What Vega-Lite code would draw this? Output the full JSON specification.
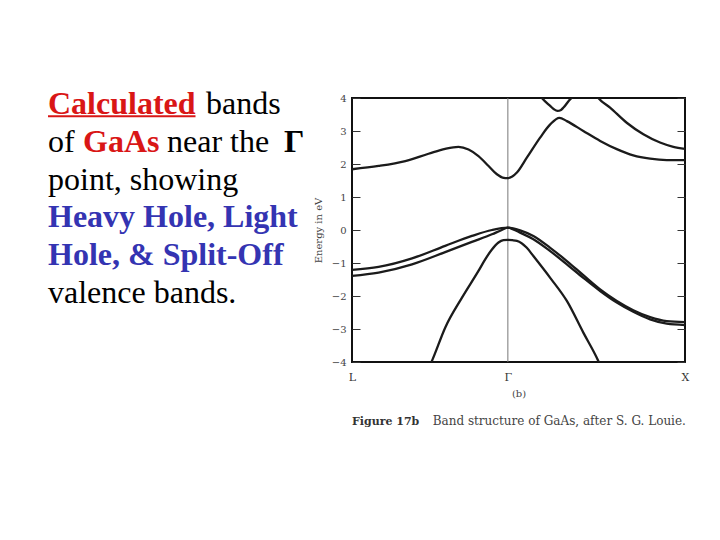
{
  "$schema": "https://vega.github.io/schema/vega-lite/v6.json",
  "background": "white",
  "padding": {"left": 0, "top": 88, "right": 10, "bottom": 10},
  "bounds": "flush",
  "spacing": 52,
  "config": {"view": {"stroke": "#111", "strokeWidth": 2}},
  "hconcat": [
    {
      "width": 300,
      "height": 264,
      "view": {"stroke": null},
      "data": {"values": [
        {"line": 1, "start": 48, "text": "Calculated", "role": "method"},
        {"line": 1, "start": 206, "text": "bands", "role": "plain"},
        {"line": 2, "start": 48, "text": "of", "role": "plain"},
        {"line": 2, "start": 83, "text": "GaAs", "role": "material"},
        {"line": 2, "start": 167, "text": "near the", "role": "plain"},
        {"line": 2, "start": 284, "text": "Γ", "role": "symbol"},
        {"line": 3, "start": 48, "text": "point, showing", "role": "plain"},
        {"line": 4, "start": 48, "text": "Heavy Hole, Light", "role": "band"},
        {"line": 5, "start": 48, "text": "Hole, & Split-Off", "role": "band"},
        {"line": 6, "start": 48, "text": "valence bands.", "role": "plain"}
      ]},
      "layer": [
        {
          "transform": [{"filter": "datum.role !== 'plain'"}],
          "mark": {"type": "text", "align": "left", "baseline": "alphabetic", "font": "Liberation Serif", "fontSize": 32, "fontWeight": "bold"},
          "encoding": {
            "x": {"field": "start", "type": "quantitative", "scale": {"domain": [0, 300]}, "axis": null},
            "y": {"field": "line", "type": "quantitative", "scale": {"domain": [1, 6], "range": [16.3, 204.8]}, "axis": null},
            "text": {"field": "text"},
            "color": {"field": "role", "type": "nominal", "scale": {"domain": ["plain", "symbol", "method", "material", "band"], "range": ["#000000", "#000000", "#d91616", "#d91616", "#3434b2"]}, "legend": null}
          }
        },
        {
          "transform": [{"filter": "datum.role === 'plain'"}],
          "mark": {"type": "text", "align": "left", "baseline": "alphabetic", "font": "Liberation Serif", "fontSize": 32},
          "encoding": {
            "x": {"field": "start", "type": "quantitative", "scale": {"domain": [0, 300]}, "axis": null},
            "y": {"field": "line", "type": "quantitative", "scale": {"domain": [1, 6], "range": [16.3, 204.8]}, "axis": null},
            "text": {"field": "text"},
            "color": {"field": "role", "type": "nominal", "scale": {"domain": ["plain", "symbol", "method", "material", "band"], "range": ["#000000", "#000000", "#d91616", "#d91616", "#3434b2"]}, "legend": null}
          }
        },
        {
          "data": {"values": [{}]},
          "mark": {"type": "rule", "color": "#d91616", "strokeWidth": 2},
          "encoding": {
            "x": {"datum": 48, "type": "quantitative", "axis": null},
            "x2": {"datum": 195.5},
            "y": {"datum": 1.055, "type": "quantitative", "axis": null}
          }
        }
      ]
    },
    {
      "width": 333,
      "height": 264,
      "resolve": {"scale": {"x": "independent", "y": "independent"}, "axis": {"x": "independent", "y": "independent"}},
      "layer": [
        {
          "data": {"values": [{}]},
          "mark": {"type": "rule", "color": "#777", "strokeWidth": 1},
          "encoding": {"x": {"datum": 0, "type": "quantitative", "scale": {"domain": [-0.88, 1], "nice": false, "zero": false}, "axis": null}}
        },
        {
          "data": {"values": [
            {"b": "c1", "k": -0.88, "E": 1.84}, {"b": "c1", "k": -0.73, "E": 1.94}, {"b": "c1", "k": -0.579, "E": 2.09},
            {"b": "c1", "k": -0.448, "E": 2.31}, {"b": "c1", "k": -0.354, "E": 2.46}, {"b": "c1", "k": -0.279, "E": 2.52},
            {"b": "c1", "k": -0.222, "E": 2.44}, {"b": "c1", "k": -0.166, "E": 2.24}, {"b": "c1", "k": -0.109, "E": 1.94},
            {"b": "c1", "k": -0.062, "E": 1.69}, {"b": "c1", "k": -0.03, "E": 1.59}, {"b": "c1", "k": 0, "E": 1.57},
            {"b": "c1", "k": 0.025, "E": 1.62}, {"b": "c1", "k": 0.051, "E": 1.74}, {"b": "c1", "k": 0.107, "E": 2.19},
            {"b": "c1", "k": 0.182, "E": 2.8}, {"b": "c1", "k": 0.239, "E": 3.2}, {"b": "c1", "k": 0.291, "E": 3.4},
            {"b": "c1", "k": 0.333, "E": 3.3}, {"b": "c1", "k": 0.426, "E": 3.0}, {"b": "c1", "k": 0.521, "E": 2.7},
            {"b": "c1", "k": 0.615, "E": 2.45}, {"b": "c1", "k": 0.708, "E": 2.26}, {"b": "c1", "k": 0.803, "E": 2.16},
            {"b": "c1", "k": 0.897, "E": 2.12}, {"b": "c1", "k": 1, "E": 2.12},
            {"b": "c2", "k": 0.18, "E": 4.08}, {"b": "c2", "k": 0.192, "E": 4.0}, {"b": "c2", "k": 0.239, "E": 3.76},
            {"b": "c2", "k": 0.26, "E": 3.66}, {"b": "c2", "k": 0.28, "E": 3.61}, {"b": "c2", "k": 0.3, "E": 3.64},
            {"b": "c2", "k": 0.314, "E": 3.71}, {"b": "c2", "k": 0.351, "E": 3.96}, {"b": "c2", "k": 0.37, "E": 4.05},
            {"b": "c3", "k": 0.5, "E": 4.08}, {"b": "c3", "k": 0.511, "E": 4.0}, {"b": "c3", "k": 0.577, "E": 3.71},
            {"b": "c3", "k": 0.671, "E": 3.25}, {"b": "c3", "k": 0.765, "E": 2.9}, {"b": "c3", "k": 0.859, "E": 2.65},
            {"b": "c3", "k": 0.934, "E": 2.52}, {"b": "c3", "k": 1, "E": 2.46},
            {"b": "v1", "k": -0.88, "E": -1.21}, {"b": "v1", "k": -0.73, "E": -1.12}, {"b": "v1", "k": -0.541, "E": -0.86},
            {"b": "v1", "k": -0.354, "E": -0.48}, {"b": "v1", "k": -0.203, "E": -0.18}, {"b": "v1", "k": -0.09, "E": 0.0},
            {"b": "v1", "k": 0, "E": 0.07}, {"b": "v1", "k": 0.03, "E": 0.05}, {"b": "v1", "k": 0.069, "E": -0.01},
            {"b": "v1", "k": 0.144, "E": -0.18}, {"b": "v1", "k": 0.239, "E": -0.54}, {"b": "v1", "k": 0.333, "E": -0.94},
            {"b": "v1", "k": 0.426, "E": -1.37}, {"b": "v1", "k": 0.521, "E": -1.8}, {"b": "v1", "k": 0.615, "E": -2.15},
            {"b": "v1", "k": 0.708, "E": -2.43}, {"b": "v1", "k": 0.803, "E": -2.64}, {"b": "v1", "k": 0.897, "E": -2.76},
            {"b": "v1", "k": 1, "E": -2.79},
            {"b": "v2", "k": -0.88, "E": -1.39}, {"b": "v2", "k": -0.73, "E": -1.29}, {"b": "v2", "k": -0.541, "E": -1.04},
            {"b": "v2", "k": -0.354, "E": -0.67}, {"b": "v2", "k": -0.203, "E": -0.36}, {"b": "v2", "k": -0.09, "E": -0.13},
            {"b": "v2", "k": -0.034, "E": 0.0}, {"b": "v2", "k": 0, "E": 0.07}, {"b": "v2", "k": 0.03, "E": 0.02},
            {"b": "v2", "k": 0.069, "E": -0.08}, {"b": "v2", "k": 0.144, "E": -0.28}, {"b": "v2", "k": 0.239, "E": -0.64},
            {"b": "v2", "k": 0.333, "E": -1.04}, {"b": "v2", "k": 0.426, "E": -1.45}, {"b": "v2", "k": 0.521, "E": -1.85},
            {"b": "v2", "k": 0.615, "E": -2.2}, {"b": "v2", "k": 0.708, "E": -2.48}, {"b": "v2", "k": 0.803, "E": -2.71},
            {"b": "v2", "k": 0.897, "E": -2.84}, {"b": "v2", "k": 1, "E": -2.88},
            {"b": "so", "k": -0.44, "E": -4.1}, {"b": "so", "k": -0.425, "E": -3.92}, {"b": "so", "k": -0.354, "E": -2.96},
            {"b": "so", "k": -0.259, "E": -2.05}, {"b": "so", "k": -0.166, "E": -1.24}, {"b": "so", "k": -0.128, "E": -0.89},
            {"b": "so", "k": -0.09, "E": -0.59}, {"b": "so", "k": -0.053, "E": -0.38}, {"b": "so", "k": -0.025, "E": -0.31},
            {"b": "so", "k": 0, "E": -0.3}, {"b": "so", "k": 0.025, "E": -0.31}, {"b": "so", "k": 0.051, "E": -0.33},
            {"b": "so", "k": 0.107, "E": -0.54}, {"b": "so", "k": 0.144, "E": -0.79}, {"b": "so", "k": 0.239, "E": -1.45},
            {"b": "so", "k": 0.333, "E": -2.15}, {"b": "so", "k": 0.426, "E": -3.11}, {"b": "so", "k": 0.502, "E": -3.87},
            {"b": "so", "k": 0.522, "E": -4.1}
          ]},
          "mark": {"type": "line", "color": "#1b1b1b", "strokeWidth": 2.3, "interpolate": "monotone", "clip": true},
          "encoding": {
            "x": {"field": "k", "type": "quantitative", "scale": {"domain": [-0.88, 1], "nice": false, "zero": false},
              "axis": {"values": [-0.88, 0, 1], "labelExpr": "datum.value < -0.5 ? 'L' : (datum.value > 0.5 ? 'X' : 'Γ')",
                "ticks": false, "domain": false, "grid": false, "labelPadding": 9, "labelFont": "DejaVu Serif", "labelFontSize": 11,
                "labelColor": "#333", "labelFlush": false, "labelOverlap": false, "title": "(b)", "titleFont": "DejaVu Serif", "titleFontSize": 10, "titleFontWeight": "normal",
                "titleColor": "#444", "titlePadding": 6}},
            "y": {"field": "E", "type": "quantitative", "scale": {"domain": [-4, 4], "nice": false, "zero": false},
              "axis": {"values": [-4, -3, -2, -1, 0, 1, 2, 3, 4], "format": "d", "ticks": false, "domain": false,
                "grid": true, "gridColor": "#333", "gridWidth": 1, "gridDash": [8, 317, 8, 1000],
                "labelOverlap": false, "labelFlush": false,
                "labelPadding": 6, "labelFont": "DejaVu Serif", "labelFontSize": 10, "labelColor": "#444",
                "title": "Energy in eV", "titleFont": "DejaVu Serif", "titleFontSize": 10, "titleFontWeight": "normal",
                "titleColor": "#444", "titlePadding": 8}},
            "detail": {"field": "b", "type": "nominal"}
          }
        },
        {
          "data": {"values": [{}]},
          "mark": {"type": "text", "align": "left", "baseline": "alphabetic", "font": "DejaVu Serif", "fontSize": 11, "fontWeight": "bold", "color": "#333", "clip": false},
          "encoding": {
            "x": {"datum": -0.88, "type": "quantitative", "scale": {"domain": [-0.88, 1], "nice": false, "zero": false}, "axis": null},
            "y": {"datum": -5.9, "type": "quantitative", "scale": {"domain": [-4, 4], "nice": false, "zero": false}, "axis": null},
            "text": {"value": "Figure 17b"}
          }
        },
        {
          "data": {"values": [{}]},
          "mark": {"type": "text", "align": "right", "baseline": "alphabetic", "font": "DejaVu Serif", "fontSize": 12, "color": "#444", "clip": false},
          "encoding": {
            "x": {"datum": 1.005, "type": "quantitative", "scale": {"domain": [-0.88, 1], "nice": false, "zero": false}, "axis": null},
            "y": {"datum": -5.9, "type": "quantitative", "scale": {"domain": [-4, 4], "nice": false, "zero": false}, "axis": null},
            "text": {"value": "Band structure of GaAs, after S. G. Louie."}
          }
        }
      ]
    }
  ]
}
